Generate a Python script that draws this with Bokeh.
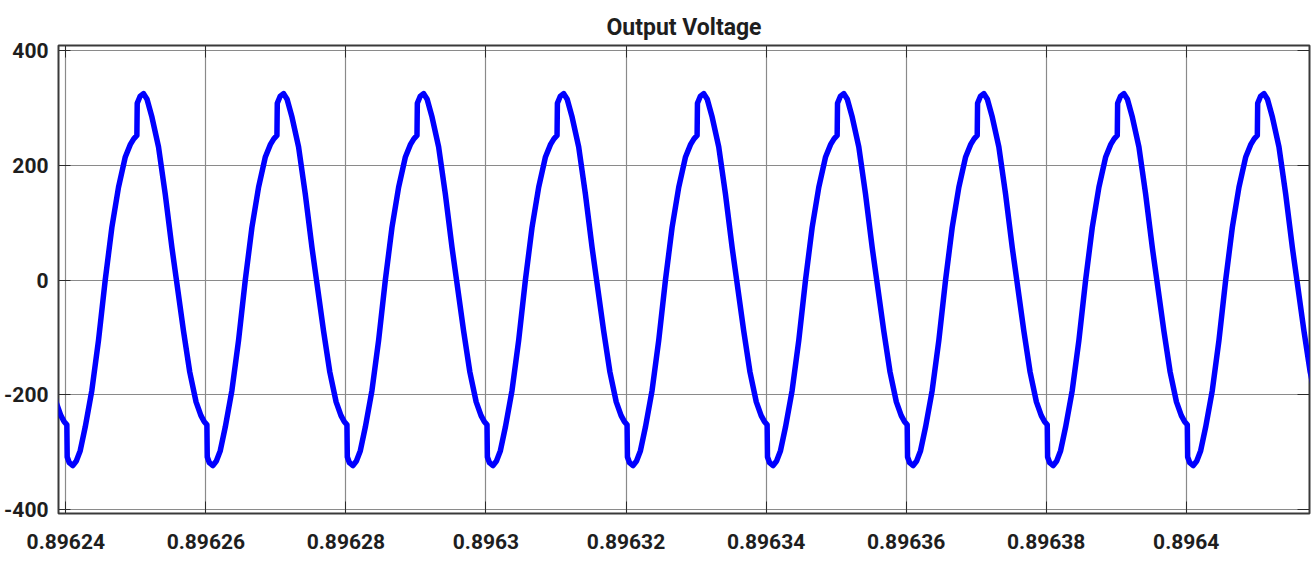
from bokeh.plotting import figure
from bokeh.models import LinearAxis, FixedTicker, Range1d, CustomLabelingPolicy
from bokeh.embed import file_html
from bokeh.resources import INLINE

# ---- data ----
title_text = "Output Voltage"
x_ticks = [0.89624, 0.89626, 0.89628, 0.89630, 0.89632, 0.89634, 0.89636, 0.89638, 0.89640]
x_tick_labels = ["0.89624", "0.89626", "0.89628", "0.8963", "0.89632", "0.89634",
                 "0.89636", "0.89638", "0.8964"]
y_ticks = [-400, -200, 0, 200, 400]
y_tick_labels = ["-400", "-200", "0", "200", "400"]

# start time (s) of each waveform cycle (at the negative-going step)
cycle_start = [0.8962202, 0.8962402, 0.8962602, 0.8962802, 0.8963002,
               0.8963202, 0.8963402, 0.8963602, 0.8963802, 0.8964002]
# one cycle of the waveform: time offset (microseconds) and voltage (V)
cycle_offset_us = [0.0, 0.3, 0.8, 1.3, 1.86, 2.57, 3.52, 4.47, 5.43, 6.38, 7.33, 8.28,
                   9.0, 9.5, 9.95,
                   10.0, 10.4, 10.9, 11.4, 12.1, 13.04, 14.0, 14.95, 15.6, 16.6, 17.5,
                   18.4, 19.1, 19.55, 19.95]
cycle_voltage = [-308, -318, -323, -315, -297, -256, -192, -105, 0, 92, 162, 214,
                 236, 246, 252,
                 308, 320, 325, 315, 284, 232, 150, 57, 0, -88, -160,
                 -212, -236, -246, -252]

t = []
v = []
for c in cycle_start:
    for dt, vv in zip(cycle_offset_us, cycle_voltage):
        t.append(c + dt * 1e-6)
        v.append(vv)

FONT = "Roboto"
TXT = "#1e1e1e"

p = figure(width=1312, height=561, output_backend="svg", toolbar_location=None,
           x_range=Range1d(0.896238958, 0.8964176), y_range=Range1d(-406.4, 408.7),
           min_border_left=58, min_border_right=3, min_border_top=45, min_border_bottom=48,
           background_fill_color="white", border_fill_color="white")

p.title.text = title_text
p.title.align = "center"
p.title.text_font = FONT
p.title.text_font_size = "23px"
p.title.text_font_style = "bold"
p.title.text_color = TXT
p.title.standoff = 9

p.line(t, v, line_color="#0000ff", line_width=5.5, line_join="round")

p.outline_line_color = "#3a3a3a"
p.outline_line_width = 2

for ax in (p.xaxis[0], p.yaxis[0]):
    ax.axis_line_color = None
    ax.major_tick_in = 12
    ax.major_tick_out = 0
    ax.minor_tick_line_color = None
    ax.major_tick_line_color = "#2a2a2a"
    ax.major_label_text_font = FONT
    ax.major_label_text_font_size = "21px"
    ax.major_label_text_font_style = "bold"
    ax.major_label_text_color = TXT

p.xaxis[0].ticker = FixedTicker(ticks=x_ticks)
p.xaxis[0].major_label_overrides = dict(zip(x_ticks, x_tick_labels))
p.xaxis[0].major_label_standoff = 20
p.yaxis[0].ticker = FixedTicker(ticks=y_ticks)
p.yaxis[0].major_label_overrides = dict(zip(y_ticks, y_tick_labels))
p.yaxis[0].major_label_standoff = 10

no_labels = CustomLabelingPolicy(code="return []")
top_ax = LinearAxis(ticker=FixedTicker(ticks=x_ticks), axis_line_color=None,
                    major_tick_in=12, major_tick_out=0, minor_tick_line_color=None,
                    major_tick_line_color="#2a2a2a", major_label_text_font_size="0px",
                    major_label_standoff=0, major_label_policy=no_labels)
right_ax = LinearAxis(ticker=FixedTicker(ticks=y_ticks), axis_line_color=None,
                      major_tick_in=12, major_tick_out=0, minor_tick_line_color=None,
                      major_tick_line_color="#2a2a2a", major_label_text_font_size="0px",
                      major_label_standoff=0, major_label_policy=no_labels)
p.add_layout(top_ax, "above")
p.add_layout(right_ax, "right")

p.xgrid.ticker = FixedTicker(ticks=x_ticks)
p.ygrid.ticker = FixedTicker(ticks=y_ticks)
for g in (p.xgrid[0], p.ygrid[0]):
    g.grid_line_color = "#8a8a8a"
    g.grid_line_width = 1.2

open("out.html", "w").write(file_html(p, INLINE))
